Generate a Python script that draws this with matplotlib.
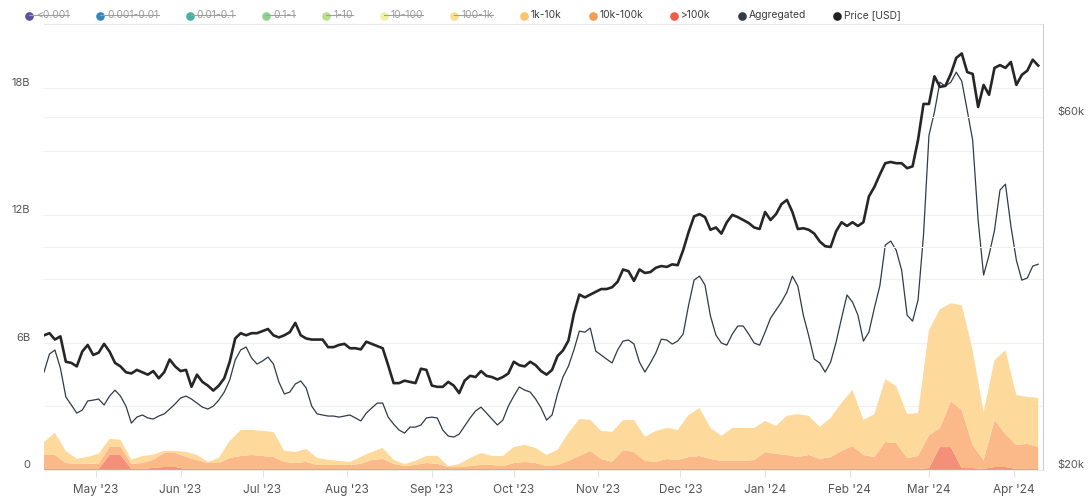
import matplotlib
matplotlib.use('Agg')
import matplotlib.pyplot as plt
import matplotlib.dates as mdates
from matplotlib.lines import Line2D
from matplotlib.transforms import IdentityTransform
from matplotlib.ticker import NullLocator
import pandas as pd

plt.rcParams['font.family'] = ['Inter', 'DejaVu Sans']

# lines: one sample every 2 days, areas: one every 4 days
line_dates = pd.date_range('2023-04-12', periods=183, freq='2D')
area_dates = pd.date_range('2023-04-12', periods=92, freq='4D')

price_k = [30.4, 30.6, 30.0, 30.3, 28.0, 27.9, 27.6, 28.9, 29.5, 28.6,
           28.8, 29.6, 28.9, 27.9, 27.6, 27.1, 27.0, 27.3, 27.1, 26.9,
           27.2, 26.6, 27.1, 28.2, 27.6, 27.2, 27.3, 25.9, 26.9, 26.3,
           26.0, 25.6, 26.0, 26.6, 28.0, 30.1, 30.6, 30.4, 30.6, 30.6,
           30.8, 31.0, 30.4, 30.2, 30.4, 30.7, 31.6, 30.4, 30.1, 30.0,
           30.0, 30.0, 29.3, 29.3, 29.5, 29.6, 29.2, 29.2, 29.1, 29.8,
           29.6, 29.4, 29.2, 27.7, 26.2, 26.2, 26.4, 26.3, 26.2, 27.4,
           27.3, 26.0, 25.9, 25.9, 26.3, 26.0, 25.4, 26.4, 26.8, 26.7,
           27.2, 26.8, 26.7, 26.5, 26.7, 27.0, 28.0, 27.7, 27.6, 28.0,
           27.7, 27.2, 26.9, 27.3, 28.5, 29.0, 29.9, 32.5, 34.5, 34.2,
           34.5, 34.8, 35.1, 35.1, 35.3, 35.9, 37.3, 37.1, 36.0, 37.3,
           36.9, 37.0, 37.5, 37.7, 37.6, 37.9, 37.8, 39.6, 41.9, 44.0,
           44.3, 43.9, 42.2, 42.5, 41.7, 43.2, 44.2, 43.9, 43.5, 43.1,
           42.5, 42.3, 44.6, 43.5, 44.3, 45.7, 46.3, 44.6, 42.3, 42.4,
           42.2, 41.7, 40.7, 40.1, 40.0, 42.0, 43.2, 42.7, 43.2, 42.7,
           43.2, 46.8, 48.2, 50.1, 51.9, 52.1, 51.9, 51.9, 51.1, 51.4,
           55.8, 62.4, 62.4, 68.0, 65.8, 66.0, 68.5, 72.0, 73.0, 68.9,
           68.5, 61.8, 66.2, 64.2, 69.8, 70.4, 69.8, 71.1, 66.2, 68.3,
           69.2, 71.6, 70.3]

aggregated_b = [4.61, 5.46, 5.65, 4.80, 3.44, 3.06, 2.68, 2.82, 3.25, 3.29,
                3.34, 3.06, 3.48, 3.76, 3.48, 3.01, 2.21, 2.49, 2.59, 2.45,
                2.40, 2.54, 2.64, 2.87, 3.11, 3.39, 3.48, 3.34, 3.15, 2.96,
                2.87, 3.01, 3.29, 3.67, 4.24, 5.18, 5.65, 5.79, 5.27, 4.99,
                5.13, 5.32, 4.99, 4.14, 3.58, 3.67, 4.05, 4.19, 3.86, 3.01,
                2.64, 2.59, 2.54, 2.54, 2.49, 2.54, 2.59, 2.45, 2.31, 2.68,
                2.92, 3.15, 3.15, 2.49, 2.16, 1.88, 1.74, 2.02, 2.02, 2.12,
                2.45, 2.49, 2.45, 1.88, 1.60, 1.55, 1.69, 2.07, 2.45, 2.78,
                2.96, 2.68, 2.40, 2.12, 2.35, 3.01, 3.48, 3.91, 3.76, 3.67,
                3.34, 2.92, 2.35, 2.59, 3.58, 4.38, 4.89, 5.65, 6.54, 6.49,
                6.68, 5.60, 5.41, 5.22, 5.04, 5.65, 6.07, 6.12, 5.93, 5.08,
                4.61, 5.04, 5.51, 6.16, 6.12, 5.93, 6.07, 6.40, 7.76, 8.94,
                9.13, 8.71, 7.25, 6.35, 5.98, 5.88, 6.40, 6.78, 6.78, 6.40,
                5.98, 5.88, 6.49, 7.15, 7.53, 7.91, 8.38, 9.13, 8.66, 7.29,
                6.31, 5.22, 5.04, 4.61, 5.08, 6.02, 7.15, 8.24, 7.91, 7.29,
                6.07, 6.49, 7.62, 8.66, 10.59, 10.78, 10.35, 9.41, 7.29, 7.01,
                8.00, 11.06, 15.76, 16.85, 18.26, 18.07, 18.26, 18.73, 18.31, 16.94,
                15.53, 11.76, 9.18, 10.12, 11.29, 13.18, 13.46, 11.48, 9.88, 8.94,
                9.04, 9.60, 9.69]

band_1k_10k = [0.61, 1.04, 0.56, 0.24, 0.33, 0.47, 0.38, 0.33, 0.19, 0.33,
               0.24, 0.10, 0.10, 0.24, 0.24, 0.05, 0.24, 0.80, 1.22, 1.18,
               1.18, 1.18, 0.52, 0.52, 0.61, 0.33, 0.24, 0.19, 0.14, 0.33,
               0.38, 0.52, 0.19, 0.09, 0.19, 0.33, 0.38, 0.05, 0.14, 0.38,
               0.56, 0.42, 0.47, 0.75, 0.80, 0.71, 0.52, 0.71, 1.32, 1.74,
               1.46, 1.32, 1.41, 1.41, 1.51, 1.13, 1.46, 1.46, 1.41, 1.98,
               2.26, 1.46, 1.18, 1.55, 1.55, 1.51, 1.46, 1.32, 1.84, 2.02,
               1.84, 1.51, 1.84, 2.26, 2.64, 1.65, 2.02, 2.96, 2.68, 2.07,
               2.02, 4.94, 5.60, 4.61, 4.94, 4.47, 2.26, 2.82, 3.95, 2.35,
               2.21, 2.31]

band_10k_100k = [0.66, 0.66, 0.28, 0.24, 0.24, 0.24, 0.38, 0.38, 0.24, 0.28,
                 0.38, 0.66, 0.66, 0.56, 0.42, 0.28, 0.28, 0.52, 0.61, 0.66,
                 0.61, 0.56, 0.33, 0.28, 0.33, 0.19, 0.19, 0.19, 0.19, 0.24,
                 0.42, 0.47, 0.24, 0.14, 0.19, 0.28, 0.24, 0.09, 0.09, 0.14,
                 0.19, 0.19, 0.14, 0.28, 0.33, 0.28, 0.14, 0.19, 0.38, 0.61,
                 0.85, 0.47, 0.33, 0.89, 0.80, 0.38, 0.33, 0.47, 0.42, 0.56,
                 0.61, 0.47, 0.38, 0.38, 0.38, 0.42, 0.80, 0.71, 0.66, 0.56,
                 0.66, 0.47, 0.56, 0.85, 1.08, 0.66, 0.56, 1.27, 1.22, 0.52,
                 0.61, 1.55, 0.89, 2.16, 2.73, 1.08, 0.42, 2.21, 1.55, 1.13,
                 1.18, 1.04]

band_100k_plus = [0.05, 0.05, 0.05, 0.05, 0.05, 0.05, 0.71, 0.71, 0.05, 0.05,
                  0.10, 0.14, 0.14, 0.05, 0.05, 0.05, 0.05, 0.05, 0.05, 0.05,
                  0.05, 0.05, 0.05, 0.05, 0.05, 0.05, 0.05, 0.05, 0.05, 0.05,
                  0.05, 0.05, 0.05, 0.05, 0.05, 0.05, 0.05, 0.05, 0.05, 0.05,
                  0.05, 0.05, 0.05, 0.05, 0.05, 0.05, 0.05, 0.05, 0.05, 0.05,
                  0.05, 0.05, 0.05, 0.05, 0.05, 0.05, 0.05, 0.05, 0.05, 0.05,
                  0.05, 0.05, 0.05, 0.05, 0.05, 0.05, 0.05, 0.05, 0.05, 0.05,
                  0.05, 0.05, 0.05, 0.05, 0.05, 0.05, 0.05, 0.05, 0.05, 0.05,
                  0.05, 0.09, 1.08, 1.08, 0.09, 0.09, 0.05, 0.14, 0.14, 0.05,
                  0.05, 0.05]

legend_labels = ['<0.001', '0.001-0.01', '0.01-0.1', '0.1-1', '1-10', '10-100', '100-1k',
                 '1k-10k', '10k-100k', '>100k', 'Aggregated', 'Price [USD]']
legend_colors = ['#5e4fa2', '#3288bd', '#45b3a3', '#8fd18f', '#b8e08c', '#f0f39d', '#fbe08a',
                 '#fdc46c', '#f99b55', '#ef5b45', '#323a48', '#222222']
legend_hidden = [True] * 7 + [False] * 5

band_colors = ['#f4907a', '#fbb98a', '#fdd99b']

fig = plt.figure(figsize=(10.88, 5.03), dpi=100)
ax = fig.add_axes([44 / 1088, 33 / 503, 999 / 1088, 446 / 503])
ax2 = ax.twinx()

ax.stackplot(area_dates, band_100k_plus, band_10k_100k, band_1k_10k,
             colors=band_colors, linewidth=0, zorder=2)
ax.plot(line_dates, aggregated_b, color='#323a48', lw=0.9, zorder=3)
ax2.plot(line_dates, [p * 1000 for p in price_k], color='#262626', lw=1.9, zorder=4)

ax.set_xlim(pd.Timestamp('2023-04-12'), pd.Timestamp('2024-04-11 18:00'))
ax.set_ylim(0, 21)
ax.set_yticks([0, 3, 6, 9, 12, 15, 18])
ax.set_yticklabels(['0', '', '6B', '', '12B', '', '18B'])

ax2.set_yscale('log')
ax2.set_ylim(20000, 80000)
ax2.set_yticks([20000, 40000, 60000])
ax2.set_yticklabels(['$20k', '', '$60k'])
ax2.yaxis.set_minor_locator(NullLocator())

ax.xaxis.set_major_locator(mdates.MonthLocator())
ax.xaxis.set_major_formatter(mdates.DateFormatter("%b '%y"))

for a in (ax, ax2):
    a.grid(axis='y', color='#f0f0f0', lw=0.8)
    a.set_axisbelow(True)
    for side in ('left', 'right', 'top', 'bottom'):
        a.spines[side].set_visible(False)
ax2.spines['right'].set_visible(True)
ax2.spines['right'].set_color('#cfcfcf')
ax.spines['top'].set_visible(True)
ax.spines['top'].set_color('#e8e8e8')
ax.spines['bottom'].set_visible(True)
ax.spines['bottom'].set_color('#eeeeee')

ax.tick_params(axis='y', length=0, pad=10, labelsize=8, labelcolor='#555555')
ax2.tick_params(axis='y', length=0, pad=10, labelsize=8, labelcolor='#555555')
ax.tick_params(axis='x', length=5, width=0.8, color='#e0e0e0', pad=5,
               labelsize=8.5, labelcolor='#555555')
for lbl in ax.get_yticklabels() + ax2.get_yticklabels():
    lbl.set_va('bottom')

# legend row on top, drawn by hand (hidden series are struck through)
fig.canvas.draw()
renderer = fig.canvas.get_renderer()
px = IdentityTransform()
x = 29
y = 503 - 15.5
for label, color, hidden in zip(legend_labels, legend_colors, legend_hidden):
    fig.add_artist(Line2D([x], [y], marker='o', ms=5.2, color=color, lw=0, transform=px))
    t = fig.text(x + 7, y, label, transform=px, va='center', ha='left', fontsize=7.4,
                 color='#9a9a9a' if hidden else '#3a3a3a')
    bb = t.get_window_extent(renderer)
    if hidden:
        fig.add_artist(Line2D([x, bb.x1], [y + 0.5, y + 0.5], color='#a0a0a0', lw=0.8,
                              transform=px))
    x = bb.x1 + 31

fig.savefig('out.png', dpi=100)
